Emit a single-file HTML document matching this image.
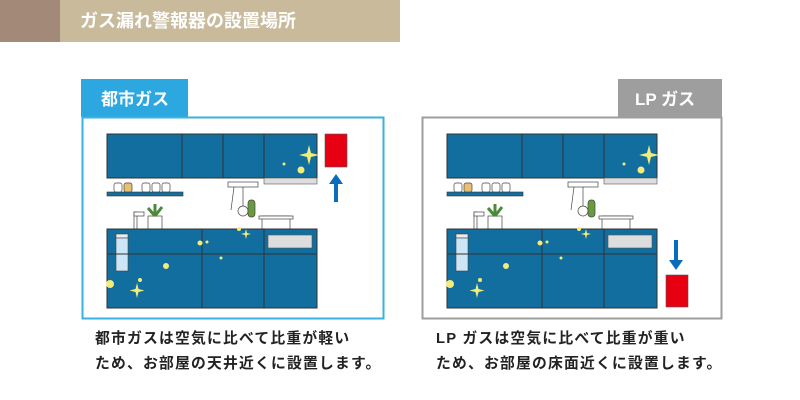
<!DOCTYPE html>
<html><head><meta charset="utf-8"><style>
body{margin:0;width:800px;height:400px;background:#fff;overflow:hidden;position:relative;font-family:"Liberation Sans","Noto Sans CJK JP",sans-serif}
.t{position:absolute;font-weight:bold;font-size:14.8px;letter-spacing:1.2px;color:#222;white-space:nowrap}
</style></head><body>
<svg width="800" height="400" style="position:absolute;left:0;top:0">
<defs>
<g id="k">
<rect x="107" y="134" width="210" height="44" fill="#126e9e" stroke="#333" stroke-width="1"/>
<line x1="182" y1="134" x2="182" y2="178" stroke="#333"/>
<line x1="223" y1="134" x2="223" y2="178" stroke="#333"/>
<line x1="264" y1="134" x2="264" y2="178" stroke="#333"/>
<rect x="264" y="178" width="53" height="6" fill="#ddd" stroke="#555" stroke-width=".6"/>
<rect x="107" y="192" width="76" height="4" fill="#126e9e" stroke="#333" stroke-width=".6"/>
<g fill="#fff" stroke="#444" stroke-width=".7">
<rect x="114" y="183" width="8" height="9" rx="2"/><rect x="124" y="183" width="8" height="9" rx="2" fill="#e8c070"/>
<rect x="142" y="183" width="8" height="9" rx="2"/><rect x="152" y="183" width="8" height="9" rx="2"/><rect x="162" y="183" width="8" height="9" rx="2"/>
<rect x="228" y="182" width="30" height="5"/>
<line x1="234" y1="187" x2="231" y2="210"/><line x1="243" y1="187" x2="243" y2="206"/><circle cx="243" cy="211" r="5"/>
<rect x="248" y="200" width="7" height="17" rx="3" fill="#6a9a40"/>
<rect x="134" y="212" width="3" height="17"/><rect x="134" y="212" width="10" height="4"/>
<rect x="148" y="216" width="14" height="13"/>
<rect x="262" y="216" width="28" height="13"/><rect x="259" y="216" width="34" height="3"/>
</g>
<path d="M155 216 l-7 -8 M155 216 l0 -12 M155 216 l7 -9" stroke="#4a8a3a" stroke-width="3"/>
<rect x="107" y="229" width="210" height="79" fill="#126e9e" stroke="#333" stroke-width="1"/>
<rect x="116" y="234" width="12" height="4" fill="#eee" stroke="#444" stroke-width=".6"/>
<rect x="116" y="238" width="12" height="33" fill="#cde6f5" stroke="#444" stroke-width=".6"/>
<line x1="107" y1="254" x2="317" y2="254" stroke="#333"/>
<line x1="202" y1="229" x2="202" y2="308" stroke="#333"/>
<line x1="264" y1="229" x2="264" y2="308" stroke="#333"/>
<rect x="268" y="235" width="44" height="13" fill="#ddd" stroke="#555" stroke-width=".6"/>
<g fill="#f3ec7a"><circle cx="301" cy="170" r="3.5"/><circle cx="284" cy="164" r="1.5"/><circle cx="110" cy="284" r="4"/><circle cx="166" cy="266" r="3"/><circle cx="200" cy="243" r="2.5"/><circle cx="207" cy="242" r="1.5"/><circle cx="221" cy="258" r="1.5"/><circle cx="140" cy="280" r="2"/><circle cx="239" cy="229" r="2"/>
<path d="M309 145 l2 8 8 2 -8 2 -2 8 -2 -8 -8 -2 8 -2z"/><path d="M137 283 l1.5 6 6 1.5 -6 1.5 -1.5 6 -1.5 -6 -6 -1.5 6 -1.5z"/><path d="M246 229 l1 4 4 1 -4 1 -1 4 -1 -4 -4 -1 4 -1z"/></g>
</g>
</defs>
<rect x="0" y="0" width="60" height="42" fill="#a38977"/>
<rect x="60" y="0" width="340" height="42" fill="#c8ba9b"/>
<text x="80" y="27" fill="#fff" font-size="18" font-weight="bold">ガス漏れ警報器の設置場所</text>
<rect x="81" y="79" width="107" height="38" fill="#2ca7e0"/>
<text x="101" y="105" fill="#fff" font-size="17" font-weight="bold">都市ガス</text>
<rect x="82.5" y="117.5" width="301" height="201" fill="#fff" stroke="#3bb0e3" stroke-width="2"/>
<rect x="618" y="79" width="104" height="38" fill="#9e9e9e"/>
<text x="635" y="105" fill="#fff" font-size="17" font-weight="bold">LP ガス</text>
<rect x="422.5" y="117.5" width="299" height="201" fill="#fff" stroke="#9e9e9e" stroke-width="2"/>
<use href="#k"/>
<use href="#k" transform="translate(340,0)"/>
<rect x="325" y="134" width="22" height="33" fill="#e60012" stroke="#555" stroke-width=".6"/>
<path d="M336 174 l-7 10 h5 v18 h4 v-18 h5z" fill="#0a6cbc"/>
<rect x="666" y="275" width="22" height="32" fill="#e60012" stroke="#555" stroke-width=".6"/>
<path d="M676 270 l-7 -10 h5 v-20 h4 v20 h5z" fill="#0a6cbc"/>
</svg>
<div class="t" style="left:95px;top:327px">都市ガスは空気に比べて比重が軽い</div>
<div class="t" style="left:95px;top:352px">ため、お部屋の天井近くに設置します。</div>
<div class="t" style="left:436px;top:327px">LP ガスは空気に比べて比重が重い</div>
<div class="t" style="left:436px;top:352px">ため、お部屋の床面近くに設置します。</div>
</body></html>
